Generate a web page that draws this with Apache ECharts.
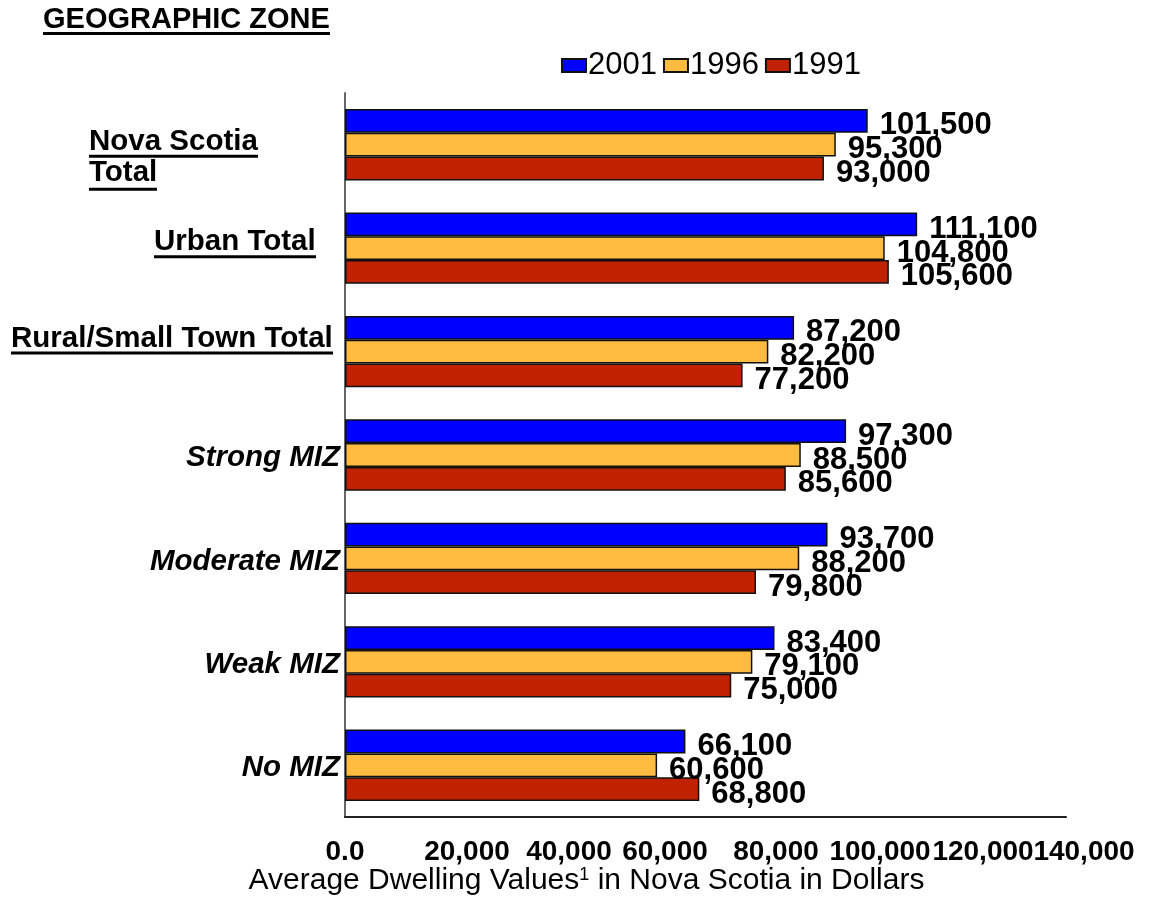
<!DOCTYPE html>
<html><head><meta charset="utf-8">
<script src="https://cdn.jsdelivr.net/npm/echarts@6/dist/echarts.min.js"></script>
<style>html,body{margin:0;padding:0;background:#fff}#c{width:1149px;height:916px}</style>
</head><body><div id="c"></div>
<script>
const categories = ['Nova Scotia Total','Urban Total','Rural/Small Town Total','Strong MIZ','Moderate MIZ','Weak MIZ','No MIZ'];
const seriesNames = ['2001','1996','1991'];
const values2001 = [101500,111100,87200,97300,93700,83400,66100];
const values1996 = [95300,104800,82200,88500,88200,79100,60600];
const values1991 = [93000,105600,77200,85600,79800,75000,68800];
const xTicks = [0,20000,40000,60000,80000,100000,120000,140000];
const xTickLabels = ['0.0','20,000','40,000','60,000','80,000','100,000','120,000','140,000'];
const chartTitle = 'GEOGRAPHIC ZONE';
const axisTitleParts = ['Average Dwelling Values','1',' in Nova Scotia in Dollars'];

const FONT = '"Liberation Sans", Arial, Helvetica, sans-serif';
const mctx = document.createElement('canvas').getContext('2d');
function tw(text, size, weight, style) {
  mctx.font = (style || 'normal') + ' ' + (weight || 'normal') + ' ' + size + 'px ' + FONT;
  return Math.round(mctx.measureText(text).width);
}
const colors = ['#0000FF', '#FFBC40', '#C02200'];
const seriesValues = [values2001, values1996, values1991];

// y label styles
const Y_SIZE = 29.5;
const yRich = {
  b: {fontSize: Y_SIZE, fontWeight: 'bold', fontFamily: FONT, color: '#000', lineHeight: 26, align: 'left'},
  b2: {fontSize: Y_SIZE, fontWeight: 'bold', fontFamily: FONT, color: '#000', lineHeight: 30, align: 'left'},
  it: {fontSize: Y_SIZE, fontWeight: 'bold', fontStyle: 'italic', fontFamily: FONT, color: '#000', lineHeight: 28}
};
function ulStyle(name, text) {
  yRich[name] = {width: tw(text, Y_SIZE, 'bold'), height: 3, lineHeight: 3, backgroundColor: '#000', align: 'left'};
}
ulStyle('u0', 'Nova Scotia');
ulStyle('u0b', 'Total');
ulStyle('u1', 'Urban Total');
ulStyle('u2', 'Rural/Small Town Total');
const yPads = [[30, 82, 0, 0], [0, 24, 9, 0], [0, 7, 23, 0], [6, 0, 0, 0], [6, 0, 0, 0], [6, 0, 0, 0], [6, 0, 0, 0]];
function yLabel(v) {
  const i = categories.indexOf(v);
  if (i === 0) return '{b|Nova Scotia}\n{u0|}\n{b2|Total}\n{u0b|}';
  if (i === 1) return '{b|' + v + '}\n{u1|}';
  if (i === 2) return '{b|' + v + '}\n{u2|}';
  return '{it|' + v + '}';
}

// x tick label styles (label centre shift, px)
const X_SIZE = 28;
const xShift = [0, 19, 18, 11, 19, 20, 20, 18];
const xRich = {};
xShift.forEach(function (s, i) {
  xRich['p' + i] = {fontSize: X_SIZE, fontWeight: 'bold', fontFamily: FONT, color: '#000', lineHeight: 28, padding: [0, 0, 0, 2 * s]};
});
// two overlaid bottom axes so that overlapping neighbour labels (120,000 / 140,000) are both kept
const SECOND_AXIS_TICKS = [120000];
function xLabelFor(onSecond) {
  return function (v) {
    const i = xTicks.indexOf(v);
    if (i < 0) return '';
    const isSecond = SECOND_AXIS_TICKS.indexOf(v) >= 0;
    if (isSecond !== onSecond) return '';
    return '{p' + i + '|' + xTickLabels[i] + '}';
  };
}
const xBase = {
  type: 'value', min: 0, max: 140000, interval: 20000, position: 'bottom',
  splitLine: {show: false},
  axisTick: {show: false}
};

const chart = echarts.init(document.getElementById('c'), null, {renderer: 'canvas'});
chart.setOption({
  animation: false,
  backgroundColor: '#fff',
  title: {
    text: '{t|' + chartTitle + '}\n{u|}',
    left: 38, top: 3,
    textStyle: {
      rich: {
        t: {fontSize: 29, fontWeight: 'bold', fontFamily: FONT, color: '#000', lineHeight: 24},
        u: {width: tw(chartTitle, 29, 'bold'), height: 3, lineHeight: 3, backgroundColor: '#000'}
      }
    }
  },
  legend: {
    data: seriesNames,
    top: 45, left: 556,
    itemWidth: 24, itemHeight: 13, itemGap: 6,
    icon: 'rect',
    textStyle: {fontSize: 31, fontFamily: FONT, color: '#000', lineHeight: 30, padding: [0, 0, 0, -3]}
  },
  grid: {left: 345, right: 83, top: 93, bottom: 99, containLabel: false, outerBoundsMode: 'none'},
  xAxis: [
    Object.assign({}, xBase, {
      axisLine: {show: true, lineStyle: {color: '#222', width: 2}},
      axisLabel: {
        margin: 21, fontSize: X_SIZE, fontWeight: 'bold', fontFamily: FONT, color: '#000',
        showMaxLabel: true, showMinLabel: true,
        formatter: xLabelFor(false), rich: xRich
      },
      name: '{a|' + axisTitleParts[0] + '}{s|' + axisTitleParts[1] + '}{a|' + axisTitleParts[2] + '}',
      nameLocation: 'middle', nameGap: 49, nameMoveOverlap: false,
      nameTextStyle: {
        padding: [0, 238, 0, 0],
        rich: {
          a: {fontSize: 30, fontFamily: FONT, color: '#000', lineHeight: 30},
          s: {fontSize: 18, fontFamily: FONT, color: '#000', lineHeight: 18, verticalAlign: 'top'}
        }
      }
    }),
    Object.assign({}, xBase, {
      axisLine: {show: false},
      axisLabel: {
        margin: 21, fontSize: X_SIZE, fontWeight: 'bold', fontFamily: FONT, color: '#000',
        formatter: xLabelFor(true), rich: xRich
      }
    })
  ],
  yAxis: {
    type: 'category', inverse: true,
    data: categories.map(function (c, i) { return {value: c, textStyle: {padding: yPads[i]}}; }),
    axisTick: {show: false},
    axisLine: {show: true, lineStyle: {color: '#666', width: 2}},
    axisLabel: {interval: 0, margin: 5, formatter: yLabel, rich: yRich, fontSize: Y_SIZE, fontWeight: 'bold', fontFamily: FONT}
  },
  series: seriesNames.map(function (n, k) {
    return {
      name: n, type: 'bar', data: seriesValues[k], xAxisIndex: 0,
      barGap: '0%', barCategoryGap: '31%',
      itemStyle: {color: colors[k], borderColor: '#111', borderWidth: 1.5},
      label: {
        show: true, position: 'right', distance: 12, offset: [0, 5],
        fontSize: 31, fontWeight: 'bold', fontFamily: FONT, color: '#000',
        formatter: function (p) { return p.value.toLocaleString('en-US'); }
      }
    };
  })
});
</script></body></html>
